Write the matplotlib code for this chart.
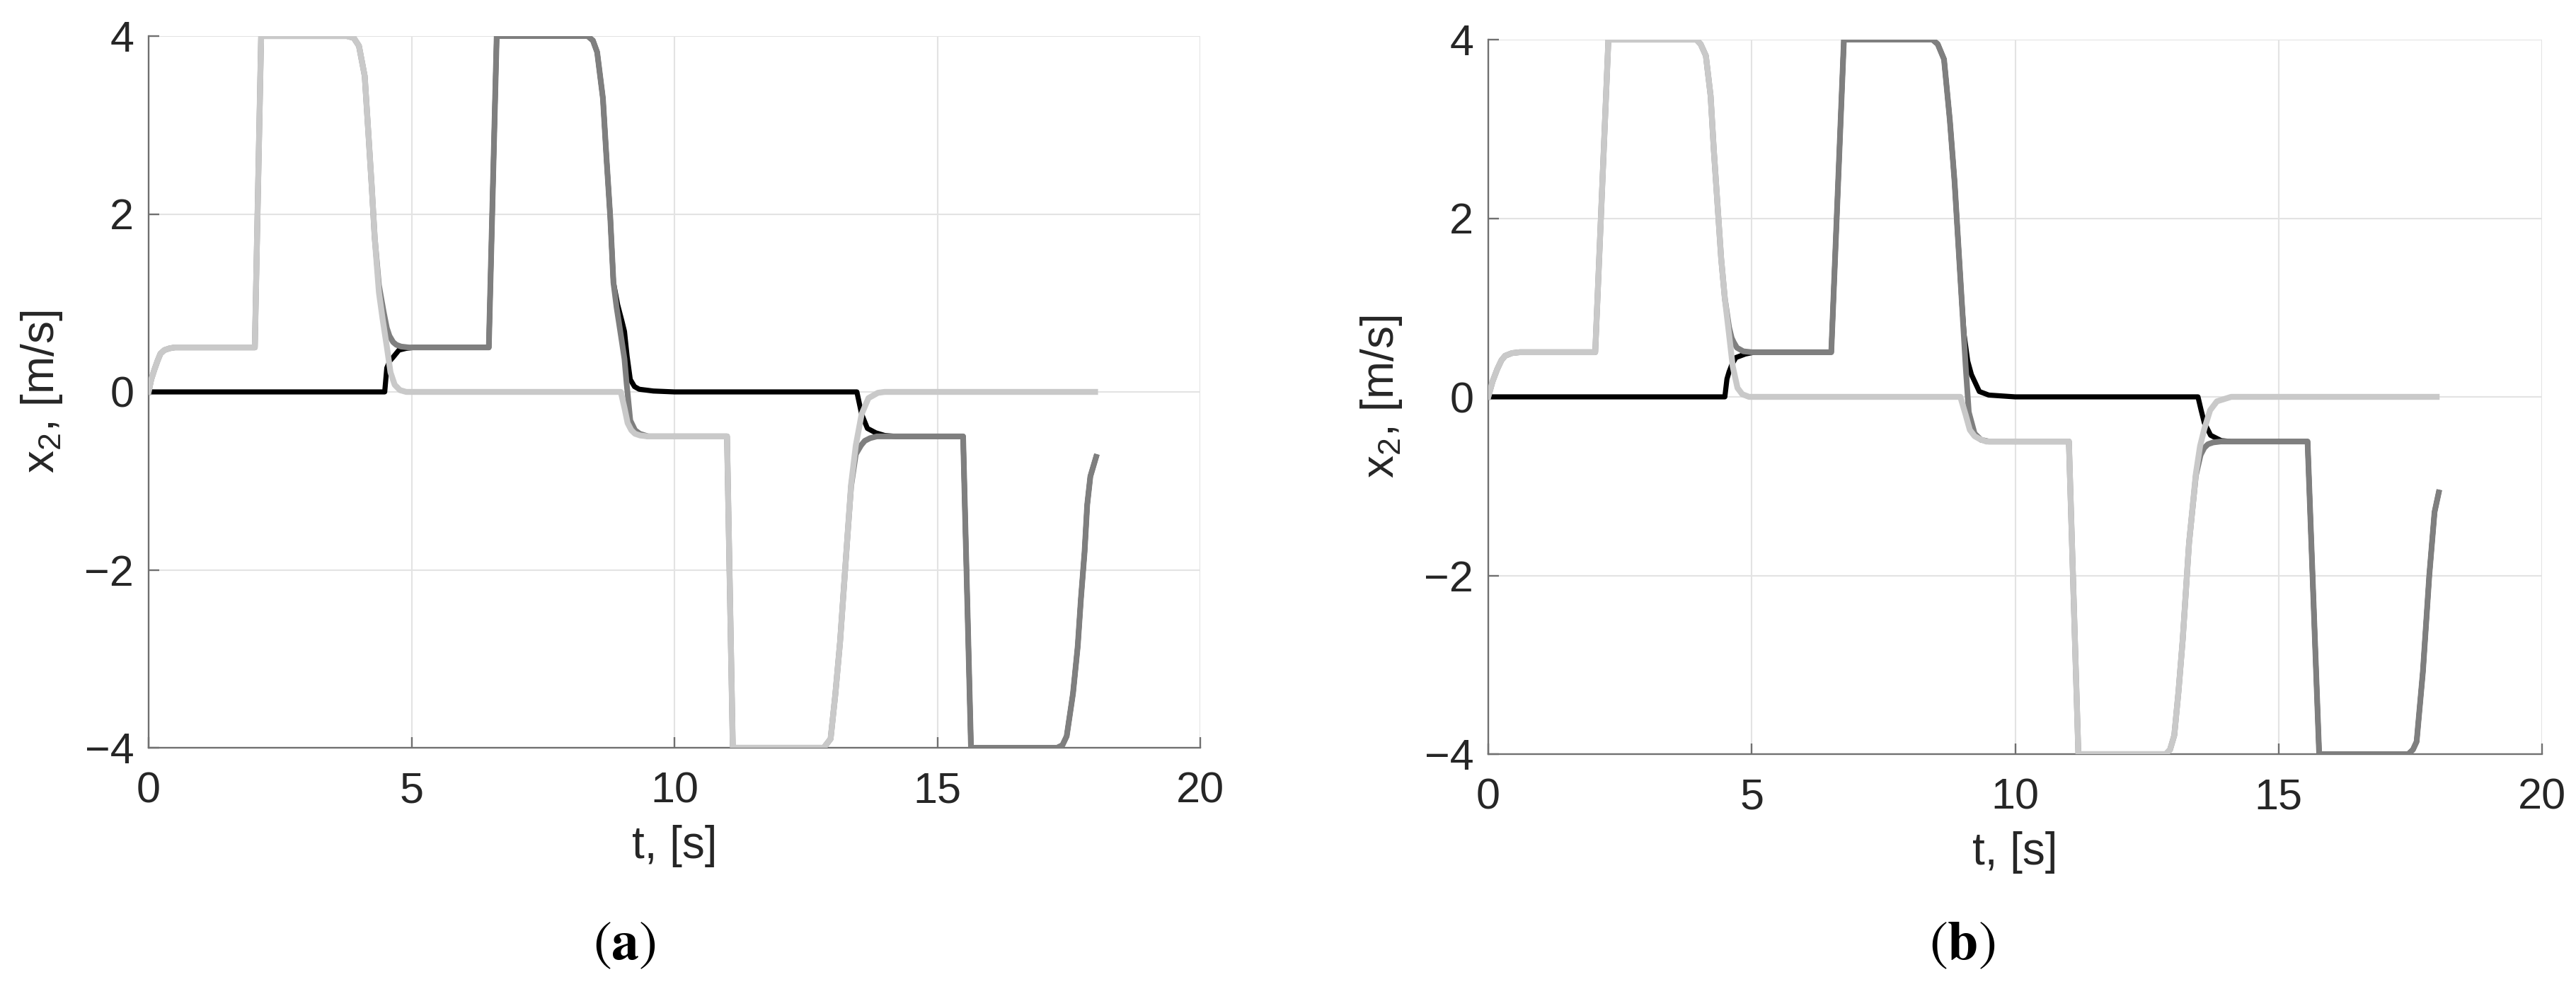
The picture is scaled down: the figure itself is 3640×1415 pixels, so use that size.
import matplotlib
matplotlib.use("Agg")
import matplotlib.pyplot as plt

plt.rcParams['font.family'] = ['Liberation Sans', 'DejaVu Sans']
plt.rcParams['mathtext.fontset'] = 'custom'
plt.rcParams['mathtext.rm'] = 'Liberation Sans'
plt.rcParams['mathtext.it'] = 'Liberation Sans:italic'
plt.rcParams['mathtext.bf'] = 'Liberation Sans:bold'

# ---------------- data : panel (a) ----------------
t_light_a = [0, 0.05, 0.11, 0.17, 0.225, 0.3, 0.4, 0.5, 0.7, 2.02, 2.14, 3.77, 3.9, 4.0, 4.11,
             4.175, 4.24, 4.30, 4.38, 4.45, 4.53, 4.60, 4.68, 4.78, 4.9, 8.98, 9.05, 9.11, 9.18,
             9.25, 9.35, 9.5, 11.0, 11.11, 12.84, 12.97, 13.06, 13.15, 13.22, 13.29, 13.36,
             13.45, 13.56, 13.69, 13.87, 14.0, 18.0]
v_light_a = [0, 0.14, 0.25, 0.35, 0.43, 0.47, 0.49, 0.5, 0.5, 0.5, 4, 4, 3.98, 3.89, 3.55,
             2.95, 2.34, 1.73, 1.12, 0.82, 0.51, 0.22, 0.08, 0.02, 0, 0, -0.18, -0.35, -0.43,
             -0.47, -0.49, -0.5, -0.5, -4, -4, -3.90, -3.40, -2.81, -2.22, -1.63, -1.04,
             -0.60, -0.25, -0.07, -0.01, 0, 0]

t_dark_a = [0, 0.05, 0.11, 0.17, 0.225, 0.3, 0.4, 0.5, 0.7, 2.02, 2.14, 3.77, 3.9, 4.0, 4.11,
            4.175, 4.24, 4.30, 4.38, 4.47, 4.53, 4.58, 4.65, 4.71, 4.8, 4.95, 6.47, 6.62, 8.35,
            8.45, 8.53, 8.64, 8.71, 8.78, 8.84, 8.90, 8.96, 9.05, 9.09, 9.16, 9.25, 9.34, 9.5,
            11.0, 11.11, 12.84, 12.97, 13.06, 13.15, 13.22, 13.29, 13.36, 13.45, 13.55, 13.62,
            13.72, 13.85, 15.49, 15.64, 17.28, 17.38, 17.46, 17.58, 17.67, 17.73, 17.80, 17.85,
            17.91, 18.02]
v_dark_a = [0, 0.14, 0.25, 0.35, 0.43, 0.47, 0.49, 0.5, 0.5, 0.5, 4, 4, 3.98, 3.89, 3.55,
            2.95, 2.34, 1.73, 1.2, 0.9, 0.72, 0.63, 0.56, 0.53, 0.51, 0.5, 0.5, 4, 4,
            3.95, 3.82, 3.30, 2.61, 1.96, 1.23, 0.95, 0.72, 0.37, 0.10, -0.32, -0.43, -0.47, -0.5,
            -0.5, -4, -4, -3.90, -3.40, -2.81, -2.22, -1.63, -1.06, -0.70, -0.60, -0.55,
            -0.52, -0.5, -0.5, -4, -4, -3.97, -3.87, -3.39, -2.86, -2.33, -1.80, -1.27,
            -0.95, -0.73]

t_black_a = [0, 4.49, 4.53, 4.59, 4.65, 4.76, 4.9, 5.05, 6.47, 6.62, 8.35, 8.45, 8.53, 8.64,
             8.71, 8.78, 8.84, 8.92, 9.0, 9.05, 9.1, 9.16, 9.24, 9.33, 9.6, 10.0, 13.47, 13.56,
             13.67, 13.83, 14.0, 14.2, 15.49, 15.64, 17.28, 17.38, 17.46, 17.58, 17.67, 17.73,
             17.80, 17.85, 17.91, 18.02]
v_black_a = [0, 0, 0.27, 0.35, 0.39, 0.47, 0.49, 0.5, 0.5, 4, 4, 3.95, 3.82, 3.30,
             2.61, 1.96, 1.23, 0.98, 0.8, 0.68, 0.4, 0.14, 0.06, 0.03, 0.01, 0, 0, -0.25,
             -0.41, -0.46, -0.49, -0.5, -0.5, -4, -4, -3.97, -3.87, -3.39, -2.86, -2.33,
             -1.80, -1.27, -0.95, -0.73]

# ---------------- data : panel (b) ----------------
t_light_b = [0, 0.08, 0.17, 0.25, 0.32, 0.45, 0.6, 2.03, 2.28, 3.95, 4.03, 4.13, 4.22, 4.28,
             4.35, 4.42, 4.49, 4.57, 4.64, 4.73, 4.82, 4.95, 8.96, 9.06, 9.14, 9.23, 9.32, 9.45,
             11.02, 11.2, 12.86, 12.94, 13.02, 13.10, 13.18, 13.30, 13.43, 13.51, 13.59, 13.70,
             13.83, 14.1, 18.0]
v_light_b = [0, 0.17, 0.31, 0.41, 0.46, 0.49, 0.5, 0.5, 4, 4, 3.95, 3.82, 3.37, 2.77,
             2.16, 1.55, 1.10, 0.70, 0.34, 0.10, 0.03, 0, 0, -0.20, -0.37, -0.44, -0.47, -0.5,
             -0.5, -4, -4, -3.95, -3.79, -3.3, -2.72, -1.64, -0.86, -0.55, -0.36, -0.15,
             -0.05, 0, 0]

t_dark_b = [0, 0.08, 0.17, 0.25, 0.32, 0.45, 0.6, 2.03, 2.28, 3.95, 4.03, 4.13, 4.22, 4.28,
            4.35, 4.42, 4.49, 4.57, 4.62, 4.66, 4.72, 4.84, 5.0, 6.51, 6.75, 8.43, 8.53, 8.65,
            8.76, 8.85, 8.92, 8.99, 9.06, 9.12, 9.23, 9.35, 9.5, 11.02, 11.2, 12.86, 12.94,
            13.02, 13.10, 13.18, 13.30, 13.43, 13.52, 13.59, 13.66, 13.76, 13.9, 15.55, 15.77,
            17.46, 17.55, 17.62, 17.74, 17.86, 17.96, 18.04]
v_dark_b = [0, 0.17, 0.31, 0.41, 0.46, 0.49, 0.5, 0.5, 4, 4, 3.95, 3.82, 3.37, 2.77,
            2.16, 1.55, 1.10, 0.78, 0.66, 0.61, 0.55, 0.51, 0.5, 0.5, 4, 4, 3.95, 3.78,
            3.10, 2.41, 1.72, 1.04, 0.35, -0.17, -0.41, -0.48, -0.5, -0.5, -4, -4, -3.95,
            -3.79, -3.3, -2.72, -1.64, -0.88, -0.65, -0.57, -0.53, -0.51, -0.5, -0.5, -4,
            -4, -3.95, -3.86, -3.07, -2.0, -1.29, -1.07]

t_black_b = [0, 4.49, 4.53, 4.57, 4.63, 4.70, 4.88, 5.05, 6.51, 6.75, 8.43, 8.53, 8.65, 8.76,
             8.85, 8.92, 8.99, 9.03, 9.1, 9.17, 9.32, 9.5, 10.0, 13.47, 13.53, 13.59, 13.71,
             13.91, 14.1, 15.55, 15.77, 17.46, 17.55, 17.62, 17.74, 17.86, 17.96, 18.04]
v_black_b = [0, 0, 0.2, 0.28, 0.37, 0.44, 0.48, 0.5, 0.5, 4, 4, 3.95, 3.78, 3.10,
             2.41, 1.72, 1.04, 0.7, 0.4, 0.25, 0.06, 0.02, 0, 0, -0.15, -0.29, -0.43,
             -0.49, -0.5, -0.5, -4, -4, -3.95, -3.86, -3.07, -2.0, -1.29, -1.07]

x_ticks = [0, 5, 10, 15, 20]
y_ticks = [-4, -2, 0, 2, 4]
x_label = "t, [s]"
y_label = r"x$_\mathrm{2}$, [m/s]"
panel_tags = ["a", "b"]

C_LIGHT = "#c9c9c9"
C_DARK = "#7f7f7f"
C_BLACK = "#000000"
AX_COLOR = "#707070"
TXT_COLOR = "#262626"

W, H = 3641, 1415
fig = plt.figure(figsize=(W / 100, H / 100), dpi=100)
fig.patch.set_facecolor("white")

ax_rects = [
    [210 / W, (H - 1057) / H, (1696 - 210) / W, (1057 - 51) / H],
    [2103 / W, (H - 1066) / H, (3592 - 2103) / W, (1066 - 56) / H],
]
series = [
    ((t_black_a, v_black_a), (t_dark_a, v_dark_a), (t_light_a, v_light_a)),
    ((t_black_b, v_black_b), (t_dark_b, v_dark_b), (t_light_b, v_light_b)),
]
tag_x = [882 / W, 2773 / W]

for i in range(2):
    ax = fig.add_axes(ax_rects[i])
    (tb, vb), (td, vd), (tl, vl) = series[i]
    ax.plot(tb, vb, color=C_BLACK, lw=5.2, solid_joinstyle="round", zorder=3)
    ax.plot(td, vd, color=C_DARK, lw=5.8, solid_joinstyle="round", zorder=4)
    ax.plot(tl, vl, color=C_LIGHT, lw=6.0, solid_joinstyle="round", zorder=5)

    ax.set_xlim(0, 20)
    ax.set_ylim(-4, 4)
    ax.set_xticks(x_ticks)
    ax.set_yticks(y_ticks)
    ax.grid(True, color="#e3e3e3", lw=1.5)
    ax.set_axisbelow(True)
    for s in ["top", "right"]:
        ax.spines[s].set_visible(False)
    for s in ["left", "bottom"]:
        ax.spines[s].set_color(AX_COLOR)
        ax.spines[s].set_linewidth(1.7)
    ax.tick_params(axis="both", direction="in", length=10.5, width=1.7, color=AX_COLOR,
                   labelsize=44, labelcolor=TXT_COLOR)
    ax.tick_params(axis="x", pad=24)
    ax.tick_params(axis="y", pad=15)
    ax.set_xlabel(x_label, fontsize=46, color=TXT_COLOR)
    ax.set_ylabel(y_label, fontsize=46, color=TXT_COLOR)
    ax.xaxis.set_label_coords(0.5, -0.108)
    ax.yaxis.set_label_coords(-0.080, 0.5)

    fig.text(tag_x[i], 0.056, r"$(\mathbf{%s})$" % panel_tags[i], math_fontfamily="stix",
             fontsize=56, ha="center", va="center", color="black")

fig.savefig("out.png", dpi=100, facecolor="white")
